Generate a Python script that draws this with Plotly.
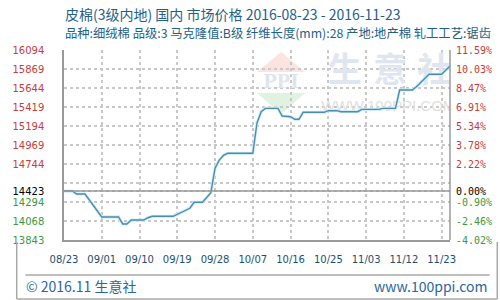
import plotly.graph_objects as go

# ---------------- data ----------------
x_labels = ["08/23", "09/01", "09/10", "09/19", "09/28", "10/07",
            "10/16", "10/25", "11/03", "11/12", "11/23"]
tick_step_days = 9
n_days = 92

day_index = [0, 2, 3, 5, 9, 13, 14, 15, 16, 19, 20, 21, 26, 30, 31, 33, 35,
             36, 37, 38, 39, 45, 46, 47, 48, 51, 52, 54, 55, 56, 57, 62, 63,
             65, 66, 70, 71, 75, 76, 79, 80, 83, 84, 85, 87, 90, 92]
price = [14423, 14423, 14388, 14388, 14116, 14116, 14033, 14033, 14080, 14080,
         14107, 14124, 14124, 14219, 14290, 14290, 14403, 14693, 14790, 14845,
         14870, 14870, 15230, 15363, 15403, 15403, 15312, 15304, 15273, 15273,
         15356, 15356, 15375, 15375, 15363, 15363, 15391, 15391, 15403, 15403,
         15620, 15620, 15659, 15707, 15806, 15806, 15905]

base_price = 14423
y_min, y_max = 13843, 16094
left_labels = ["13843", "14068", "14294", "", "14744", "14969", "15194",
               "15419", "15644", "15869", "16094"]
right_labels = ["-4.02%", "-2.46%", "-0.90%", "", "2.22%", "3.78%", "5.34%",
                "6.91%", "8.47%", "10.03%", "11.59%"]
base_left_label = "14423"
base_right_label = "0.00%"

title1 = "皮棉(3级内地) 国内 市场价格 2016-08-23 - 2016-11-23"
title2 = "品种:细绒棉 品级:3 马克隆值:B级 纤维长度(mm):28 产地:地产棉 轧工工艺:锯齿"
footer_left = "© 2016.11 生意社"
footer_right = "www.100ppi.com"

# ---------------- layout geometry ----------------
W_PX, H_PX = 500, 300
L, T, PW, PH = 50, 50, 400, 190
RED, GREEN, BLACK = "#c83c3c", "#3c9a3c", "#000000"
TEXT_BLUE = "#245f88"
GRID = "#c8c8c8"


def pxp(px):
    return (px - L) / PW


def pyp(py):
    return (T + PH - py) / PH


def px_x(px):
    return (px - L) / PW * n_days


def py_y(py):
    return y_max - (py - T) / PH * (y_max - y_min)


step = (y_max - y_min) / 10
grid_vals = [y_min + k * step for k in range(11)]
tickvals = grid_vals + [base_price]
x_tickvals = [k * tick_step_days for k in range(len(x_labels))]


def colored(txt, v):
    if txt == "":
        return ""
    c = RED if v > base_price else (GREEN if v < base_price else BLACK)
    return f"<span style='color:{c}'>{txt}</span>"


left_text = [colored(t, v) for t, v in zip(left_labels, grid_vals)] + [colored(base_left_label, base_price)]
right_text = [colored(t, v) for t, v in zip(right_labels, grid_vals)] + [colored(base_right_label, base_price)]

fig = go.Figure()

# watermark text (drawn under the line)
wm_chars = ["生", "意", "社"]
wm_px = [341, 388, 434]
fig.add_trace(go.Scatter(
    x=[px_x(p) for p in wm_px], y=[py_y(73)] * 3, mode="text", text=wm_chars,
    textfont=dict(family="Noto Sans CJK SC", size=34, color="#dfe6f0", weight="bold"),
    hoverinfo="skip", showlegend=False))
fig.add_trace(go.Scatter(
    x=[px_x(386)], y=[py_y(107)], mode="text", text=["WWW.100PPI.COM"],
    textfont=dict(family="Liberation Sans", size=15, color="#e0e0e0"),
    hoverinfo="skip", showlegend=False))
fig.add_trace(go.Scatter(
    x=[px_x(275)], y=[py_y(82)], mode="text", text=["<b>PPI</b>"],
    textfont=dict(family="Liberation Serif", size=22, color="#dfe5ef"),
    hoverinfo="skip", showlegend=False))

# halo + line
fig.add_trace(go.Scatter(x=day_index, y=price, mode="lines",
                         line=dict(color="#d2eef6", width=3.2),
                         hoverinfo="skip", showlegend=False))
fig.add_trace(go.Scatter(x=day_index, y=price, mode="lines",
                         line=dict(color="#4a8cb3", width=1.4),
                         showlegend=False))

shapes = []
# PPI logo triangles
shapes.append(dict(type="path", xref="paper", yref="paper", layer="below",
                   path=f"M {pxp(275)},{pyp(52)} L {pxp(300)},{pyp(72)} L {pxp(250)},{pyp(72)} Z",
                   fillcolor="#fbe3e0", line=dict(width=0)))
shapes.append(dict(type="path", xref="paper", yref="paper", layer="below",
                   path=f"M {pxp(250)},{pyp(93)} L {pxp(300)},{pyp(93)} L {pxp(275)},{pyp(114)} Z",
                   fillcolor="#e0f2e0", line=dict(width=0)))
# base line
shapes.append(dict(type="line", xref="paper", yref="y", x0=0, x1=1,
                   y0=base_price, y1=base_price,
                   line=dict(color="#9a9a9a", width=1.5)))
# right border of plot
shapes.append(dict(type="line", xref="paper", yref="paper", x0=1, x1=1,
                   y0=0, y1=1, line=dict(color="#9a9a9a", width=1.5)))
# footer separator
shapes.append(dict(type="line", xref="paper", yref="paper",
                   x0=pxp(10), x1=pxp(491), y0=pyp(275), y1=pyp(275),
                   line=dict(color="#a8a8a8", width=1.5)))
# footer frame
for (x0, y0, x1, y1) in [(1, 242, 1, 299), (1, 299, 499, 299),
                         (499, 242, 499, 299)]:
    shapes.append(dict(type="line", xref="paper", yref="paper",
                       x0=pxp(x0), x1=pxp(x1), y0=pyp(y0), y1=pyp(y1),
                       line=dict(color="#a8a8a8", width=1.5)))

# right-side tick labels as annotations
annotations = [
    dict(text=t, xref="paper", yref="y", x=1, y=v, xanchor="left",
         yanchor="middle", xshift=4, showarrow=False,
         font=dict(family="DejaVu Sans Mono", size=10))
    for t, v in zip(right_text, tickvals) if t
]
annotations += [
    dict(text=title1, xref="paper", yref="paper", x=pxp(49), y=pyp(14),
         xanchor="left", yanchor="middle", showarrow=False,
         font=dict(family="Noto Sans CJK SC", size=14, color=TEXT_BLUE)),
    dict(text=title2, xref="paper", yref="paper", x=pxp(49), y=pyp(33),
         xanchor="left", yanchor="middle", showarrow=False,
         font=dict(family="Noto Sans CJK SC", size=12.3, color=TEXT_BLUE)),
    dict(text=footer_left, xref="paper", yref="paper", x=pxp(9), y=pyp(286),
         xanchor="left", yanchor="middle", showarrow=False,
         font=dict(family="Noto Sans CJK SC", size=14, color="#2a66a0")),
    dict(text=footer_right, xref="paper", yref="paper", x=pxp(490), y=pyp(286),
         xanchor="right", yanchor="middle", showarrow=False,
         font=dict(family="Noto Sans CJK SC", size=14, color="#2a66a0")),
]

fig.update_layout(
    width=W_PX, height=H_PX,
    margin=dict(l=L, r=W_PX - L - PW, t=T, b=H_PX - T - PH, pad=0),
    paper_bgcolor="white", plot_bgcolor="rgba(0,0,0,0)",
    showlegend=False,
    shapes=shapes, annotations=annotations,
    xaxis=dict(range=[0, n_days], tickmode="array",
               tickvals=x_tickvals,
               ticktext=x_labels, showgrid=True, gridcolor=GRID,
               griddash="3px,3px", gridwidth=1.5, zeroline=False,
               showline=True, linecolor="#9a9a9a", linewidth=1.5,
               ticks="", ticklabelstandoff=9,
               tickfont=dict(family="DejaVu Sans", size=10, color="#1d4f72")),
    yaxis=dict(range=[y_min, y_max], tickmode="array", tickvals=tickvals,
               ticktext=left_text, showgrid=True, gridcolor=GRID,
               griddash="3px,3px", gridwidth=1.5, zeroline=False,
               showline=True, linecolor="#9a9a9a", linewidth=1.5,
               ticks="", ticklabelstandoff=16,
               tickfont=dict(family="DejaVu Sans", size=10)),
)

fig.write_html("out.html")
